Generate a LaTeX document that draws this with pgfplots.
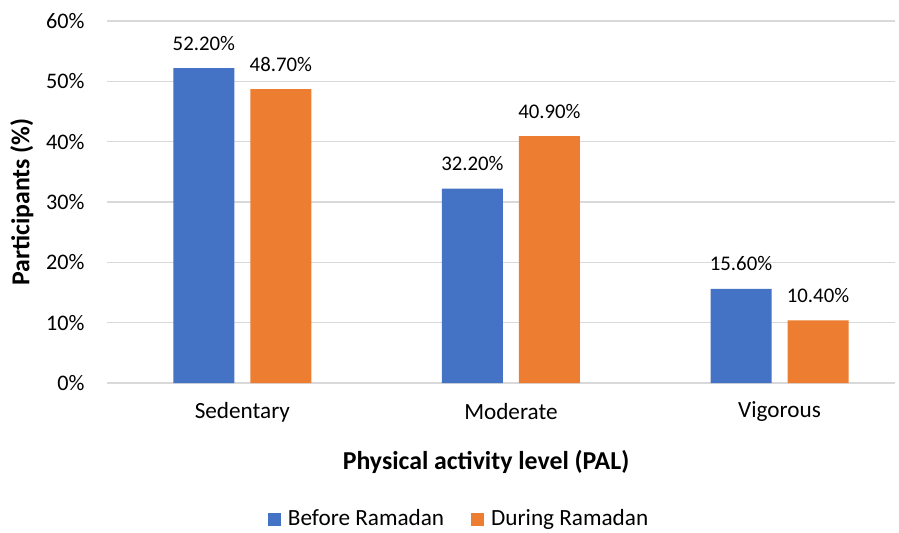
\documentclass[border=0pt]{standalone}
\usepackage{pgfplots}
\pgfplotsset{compat=1.18}
\usepackage{fontspec}
\setmainfont{Carlito}
\definecolor{cblue}{HTML}{4472C4}
\definecolor{corange}{HTML}{ED7D31}
\definecolor{cgrid}{HTML}{D9D9D9}
\begin{document}
\begin{tikzpicture}
\path[use as bounding box] (0,0) rectangle (449.5pt,266pt);
\begin{axis}[
  at={(53.5pt,74.5pt)}, anchor=south west,
  scale only axis, width=394pt, height=181pt,
  xmin=-0.504, xmax=2.43, ymin=0, ymax=60,
  axis line style={draw=none},
  ymajorgrids, grid style={cgrid, line width=0.6pt},
  major tick length=0pt,
  ytick={0,10,...,60},
  yticklabel={\pgfmathprintnumber{\tick}\%},
  yticklabel style={anchor=east, inner sep=0pt, xshift=-11pt, font=\fontsize{11.1}{13}\selectfont},
  xtick={0,1,2}, xticklabels={Sedentary,Moderate,Vigorous},
  xticklabel style={anchor=center, inner sep=0pt, yshift=-14.5pt, font=\fontsize{11.6}{13}\selectfont},
  /pgf/number format/assume math mode=true,
  xlabel={\textbf{Physical activity level (PAL)}},
  xlabel style={at={(axis description cs:0.481,-0.218)}, anchor=center, font=\fontsize{12.9}{15}\selectfont},
  ylabel={\textbf{Participants (\%)}},
  ylabel style={at={(axis description cs:-0.108,0.5)}, anchor=center, rotate=0, font=\fontsize{12.9}{15}\selectfont},
  ybar, bar width=30.5pt,
  nodes near coords={\pgfmathprintnumber[fixed,fixed zerofill,precision=2]{\pgfplotspointmeta}\%},
  every node near coord/.append style={anchor=center, yshift=12.5pt, font=\fontsize{10.4}{12}\selectfont, /pgf/number format/assume math mode=true},
  legend style={at={(axis description cs:0.45,-0.376)}, anchor=center, draw=none, fill=none,
    font=\fontsize{11.6}{13}\selectfont, nodes={inner xsep=3.5pt},
    /tikz/every even column/.append style={column sep=10pt}},
  legend columns=2,
  legend image code/.code={\fill[#1] (0pt,-3.25pt) rectangle (6.5pt,3.25pt);},
  clip=false,
]
\addplot[fill=cblue, draw=none, bar shift=-19.25pt] coordinates {(0,52.2) (1,32.2) (2,15.6)};
\addplot[fill=corange, draw=none, bar shift=19.25pt] coordinates {(0,48.7) (1,40.9) (2,10.4)};
\legend{Before Ramadan, During Ramadan}
\end{axis}
\end{tikzpicture}
\end{document}
